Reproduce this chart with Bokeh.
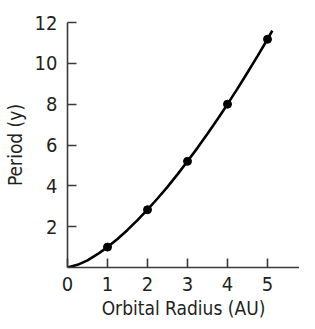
from bokeh.plotting import figure
from bokeh.models import FixedTicker, Range1d
from bokeh.embed import file_html
from bokeh.resources import INLINE

# Data
radius = [1, 2, 3, 4, 5]
period = [1.0, 2.83, 5.2, 8.0, 11.18]
curve_r = [0, 0.25, 0.5, 0.75, 1.0, 1.25, 1.5, 1.75, 2.0, 2.25, 2.5, 2.75, 3.0,
           3.25, 3.5, 3.75, 4.0, 4.25, 4.5, 4.75, 5.0, 5.12]
curve_t = [0, 0.13, 0.35, 0.65, 1.0, 1.4, 1.84, 2.32, 2.83, 3.38, 3.95, 4.56, 5.2,
           5.86, 6.55, 7.26, 8.0, 8.76, 9.55, 10.35, 11.18, 11.6]
x_ticks = [0, 1, 2, 3, 4, 5]
y_ticks = [2, 4, 6, 8, 10, 12]

FONT = "DejaVu Sans Condensed"
TXT = "#231f20"
AX = "#3a3a3a"

p = figure(width=299, height=321, output_backend="svg", toolbar_location=None,
           x_range=Range1d(0, 5.8), y_range=Range1d(0, 12),
           min_border_left=60, min_border_right=0, min_border_top=22,
           min_border_bottom=50)
p.outline_line_color = None
p.grid.visible = False
p.background_fill_color = "white"

p.line(curve_r, curve_t, line_color="black", line_width=2.6)
p.scatter(radius, period, size=8, fill_color="black", line_color="black")

for ax in (p.xaxis[0], p.yaxis[0]):
    ax.axis_line_color = AX
    ax.axis_line_width = 1.6
    ax.major_tick_line_color = AX
    ax.major_tick_line_width = 1.6
    ax.major_tick_in = 9
    ax.major_tick_out = 0
    ax.minor_tick_line_color = None
    ax.major_label_text_font = FONT
    ax.major_label_text_font_size = "20px"
    ax.major_label_text_color = TXT
    ax.axis_label_text_font = FONT
    ax.axis_label_text_font_size = "19px"
    ax.axis_label_text_font_style = "normal"
    ax.axis_label_text_color = TXT

p.xaxis[0].ticker = FixedTicker(ticks=x_ticks)
p.yaxis[0].ticker = FixedTicker(ticks=y_ticks)
p.xaxis[0].axis_label = "Orbital Radius (AU)"
p.yaxis[0].axis_label = "Period (y)"
p.xaxis[0].major_label_standoff = 9
p.xaxis[0].axis_label_standoff = 3
p.yaxis[0].major_label_standoff = 10
p.yaxis[0].axis_label_standoff = 6

open("out.html", "w").write(file_html(p, INLINE))
